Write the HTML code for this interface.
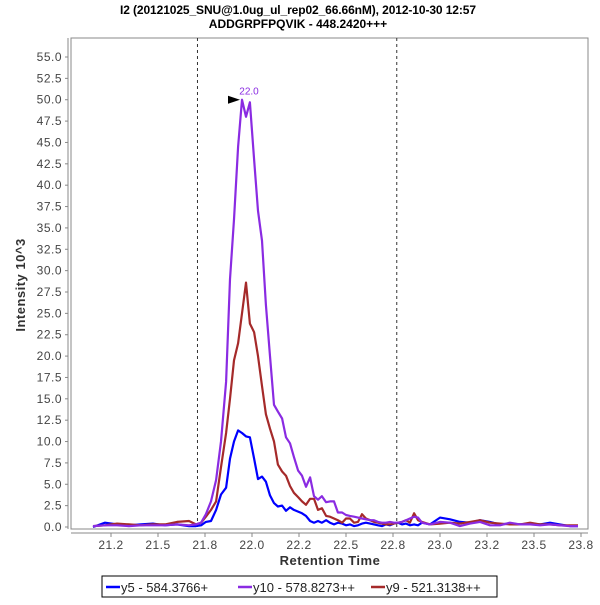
<!DOCTYPE html>
<html><head><meta charset="utf-8"><style>
body{margin:0;background:#fff;}
svg text{font-family:"Liberation Sans",sans-serif;}
</style></head><body>
<svg id="chart" width="600" height="600" xmlns="http://www.w3.org/2000/svg">
<text x="298" y="14" text-anchor="middle" font-size="12" font-weight="bold" textLength="356">I2 (20121025_SNU@1.0ug_ul_rep02_66.66nM), 2012-10-30 12:57</text>
<text x="298" y="28" text-anchor="middle" font-size="12" font-weight="bold">ADDGRPFPQVIK - 448.2420+++</text>
<rect x="71" y="38" width="517" height="491" fill="#fff" stroke="#888" stroke-width="1"/>
<g id="yaxis"></g>
<g id="xaxis"></g>
<g id="marks"></g>
<text transform="translate(25,285) rotate(-90)" text-anchor="middle" font-size="13" font-weight="bold" fill="#333" letter-spacing="0.5">Intensity 10^3</text>
<text x="330" y="565" text-anchor="middle" font-size="13" font-weight="bold" fill="#333" letter-spacing="0.5">Retention Time</text>
<g>
<rect x="102" y="576" width="395" height="21" fill="#fff" stroke="#000" stroke-width="1"/>
<line x1="106" y1="587" x2="120" y2="587" stroke="#0000ff" stroke-width="2.5"/>
<text x="121" y="592" font-size="13" fill="#222">y5 - 584.3766+</text>
<line x1="238" y1="587" x2="252" y2="587" stroke="#8a2be2" stroke-width="2.5"/>
<text x="253" y="592" font-size="13" fill="#222">y10 - 578.8273++</text>
<line x1="371" y1="587" x2="385" y2="587" stroke="#a52a2a" stroke-width="2.5"/>
<text x="386" y="592" font-size="13" fill="#222">y9 - 521.3138++</text>
</g>
</svg>
<script>
const times=[21.154,21.218,21.282,21.346,21.410,21.473,21.537,21.601,21.665,21.702,21.729,21.755,21.782,21.809,21.835,21.862,21.883,21.904,21.926,21.947,21.968,21.989,22.011,22.032,22.053,22.074,22.096,22.117,22.138,22.160,22.181,22.202,22.223,22.245,22.266,22.287,22.309,22.330,22.351,22.372,22.394,22.415,22.436,22.457,22.479,22.5,22.521,22.543,22.564,22.585,22.606,22.628,22.649,22.670,22.691,22.713,22.734,22.755,22.777,22.798,22.819,22.840,22.862,22.883,22.904,22.947,23.0,23.053,23.106,23.160,23.213,23.266,23.319,23.372,23.426,23.479,23.532,23.585,23.638,23.691,23.734];
const y10=[0.1,0.2,0.2,0.1,0.2,0.2,0.2,0.3,0.2,0.3,0.5,1.5,3,5.5,10,17,29,36,44.5,50,48,49.7,43,37,33.5,26,20,14.3,13.5,12.7,10.5,9.8,8.2,6.6,6.0,4.7,5.8,3.6,3.2,3.6,2.9,3.0,3.0,1.7,1.7,1.4,1.3,1.2,1.1,1.0,0.9,0.8,0.8,0.6,0.5,0.5,0.6,0.5,0.5,0.6,0.8,1.0,1.2,1.1,0.5,0.3,0.6,0.5,0.1,0.4,0.6,0.2,0.2,0.5,0.3,0.3,0.2,0.3,0.2,0.1,0.1];
const y9=[0.1,0.2,0.4,0.3,0.2,0.3,0.3,0.6,0.7,0.3,0.5,1.2,2.0,3.0,7,11,15,19.5,21.5,25,28.6,23.8,22.8,20.0,16.5,13.2,11.5,10.0,7.3,6.5,6.0,4.8,4.0,3.5,3.0,2.6,3.3,3.3,2.0,2.2,1.3,1.2,1.0,0.8,0.5,1.0,1.0,0.5,0.6,1.5,1.0,0.8,0.6,0.5,0.4,0.3,0.3,0.4,0.5,0.6,0.8,0.5,1.6,0.8,0.6,0.3,0.4,0.5,0.4,0.6,0.8,0.5,0.4,0.3,0.3,0.5,0.3,0.3,0.2,0.2,0.2];
const y5=[0,0.5,0.3,0.2,0.3,0.4,0.2,0.3,0.1,0.1,0.2,0.6,0.7,2.0,3.8,4.6,8.0,10.0,11.3,11.0,10.6,10.5,8.0,5.6,5.9,5.3,3.7,2.8,2.4,2.5,1.9,2.3,2.0,1.8,1.6,1.3,0.7,0.5,0.7,0.5,0.8,0.5,0.3,0.5,0.4,0.2,0.3,0.1,0.2,0.4,0.5,0.4,0.3,0.2,0.1,0.3,0.2,0.4,0.5,0.3,0.4,0.2,0.3,0.2,0.5,0.3,1.1,0.9,0.6,0.5,0.8,0.6,0.3,0.4,0.3,0.4,0.3,0.5,0.3,0.1,0.1];
const yTicks=[0,2.5,5,7.5,10,12.5,15,17.5,20,22.5,25,27.5,30,32.5,35,37.5,40,42.5,45,47.5,50,52.5,55];
const xTicks=[21.25,21.5,21.75,22.0,22.25,22.5,22.75,23.0,23.25,23.5,23.75];
const xTickLabels=["21.2","21.5","21.8","22.0","22.2","22.5","22.8","23.0","23.2","23.5","23.8"];
const boundaries=[21.71,22.77];
const peakLabel={t:22.0,v:50,text:"22.0"};

const NS="http://www.w3.org/2000/svg";
const X=t=>252+(t-22)*188;
const Y=v=>527-v*(470/55);
function mk(tag,attrs,parent,txt){const e=document.createElementNS(NS,tag);for(const k in attrs)e.setAttribute(k,attrs[k]);if(txt!==undefined)e.textContent=txt;parent.appendChild(e);return e;}
const ya=document.getElementById('yaxis'),xa=document.getElementById('xaxis'),mg=document.getElementById('marks');
mk('line',{x1:68,y1:38,x2:68,y2:529,stroke:'#888'},ya);
yTicks.forEach(v=>{
  mk('line',{x1:65,y1:Y(v),x2:68,y2:Y(v),stroke:'#888'},ya);
  const t=mk('text',{x:62,y:Y(v)+4,'text-anchor':'end','font-size':12,fill:'#444','letter-spacing':'0.5'},ya,v.toFixed(1));
  
  
});
mk('line',{x1:71,y1:533,x2:588,y2:533,stroke:'#888'},xa);
xTicks.forEach((v,i)=>{
  mk('line',{x1:X(v),y1:533,x2:X(v),y2:537,stroke:'#888'},xa);
  const t=mk('text',{x:X(v),y:549,'text-anchor':'middle','font-size':12,fill:'#444','letter-spacing':'0.5'},xa,xTickLabels[i]);
  
  
});
boundaries.forEach(b=>{
  const l=mk('line',{x1:X(b),y1:38,x2:X(b),y2:529,stroke:'#333','stroke-dasharray':'3,3'},mg);
  
  
});
function series(vals,color,name){
  const d=vals.map((v,i)=>(i?'L':'M')+X(times[i]).toFixed(1)+','+Y(v).toFixed(1)).join('');
  const p=mk('path',{d:d,fill:'none',stroke:color,'stroke-width':2.2,'stroke-linejoin':'round'},mg);
  
  
}
series(y5,'#0000ff','series-y5');
series(y9,'#a52a2a','series-y9');
series(y10,'#8a2be2','series-y10');
const px=X(peakLabel.t)-3,py=Y(peakLabel.v);
const ar=mk('polygon',{points:`${px-21},${py-4} ${px-21},${py+4} ${px-9},${py}`,fill:'#000'},mg);


const pl=mk('text',{x:px,y:py-5,'text-anchor':'middle','font-size':10,fill:'#8a2be2'},mg,peakLabel.text);


</script>
</body></html>
